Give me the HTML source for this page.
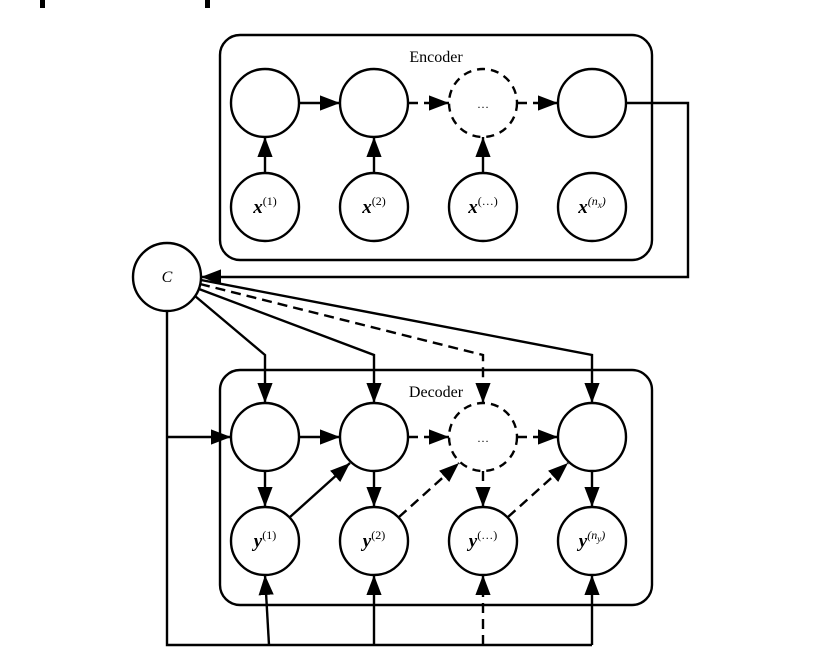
<!DOCTYPE html>
<html><head><style>body{margin:0;background:#fff}svg{display:block}</style></head><body>
<svg width="832" height="666" viewBox="0 0 832 666" xmlns="http://www.w3.org/2000/svg" font-family="Liberation Serif, serif">
<defs>
<marker id="b" viewBox="0 0 10 10" refX="10" refY="5" markerWidth="20" markerHeight="20" markerUnits="userSpaceOnUse" orient="auto"><path d="M0,1.2L10,5L0,8.8z"/></marker></defs>
<rect x="40" y="0" width="5" height="8"/><rect x="205" y="0" width="5" height="8"/>
<g fill="none" stroke="#000" stroke-width="2.4">
<rect x="220" y="35" width="432" height="225" rx="20"/>
<rect x="220" y="370" width="432" height="235" rx="20"/>
<circle cx="265" cy="103" r="34"/><circle cx="374" cy="103" r="34"/><circle cx="483" cy="103" r="34" stroke-dasharray="8,6"/><circle cx="592" cy="103" r="34"/>
<circle cx="265" cy="207" r="34"/><circle cx="374" cy="207" r="34"/><circle cx="483" cy="207" r="34"/><circle cx="592" cy="207" r="34"/>
<circle cx="167" cy="277" r="34"/>
<circle cx="265" cy="437" r="34"/><circle cx="374" cy="437" r="34"/><circle cx="483" cy="437" r="34" stroke-dasharray="8,6"/><circle cx="592" cy="437" r="34"/>
<circle cx="265" cy="541" r="34"/><circle cx="374" cy="541" r="34"/><circle cx="483" cy="541" r="34"/><circle cx="592" cy="541" r="34"/>
</g>
<g fill="none" stroke="#000" stroke-width="2.4" marker-end="url(#b)">
<line x1="299" y1="103" x2="340" y2="103"/><line x1="408" y1="103" x2="449" y2="103" stroke-dasharray="10,6"/><line x1="517" y1="103" x2="558" y2="103" stroke-dasharray="10,6"/>
<line x1="265" y1="173" x2="265" y2="137"/><line x1="374" y1="173" x2="374" y2="137"/><line x1="483" y1="173" x2="483" y2="137"/>
<polyline points="626,103 688,103 688,277 201,277"/>
<polyline points="195,296 265,355 265,403"/><polyline points="199,289 374,355 374,403"/><polyline points="200,284 483,355 483,403" stroke-dasharray="10,6"/><polyline points="201,280 592,355 592,403"/>
<polyline points="167,437 231,437"/>
<line x1="299" y1="437" x2="340" y2="437"/><line x1="408" y1="437" x2="449" y2="437" stroke-dasharray="10,6"/><line x1="517" y1="437" x2="558" y2="437" stroke-dasharray="10,6"/>
<line x1="265" y1="471" x2="265" y2="507"/><line x1="374" y1="471" x2="374" y2="507"/><line x1="483" y1="471" x2="483" y2="507" stroke-dasharray="10,6"/><line x1="592" y1="471" x2="592" y2="507"/>
<line x1="290" y1="517" x2="350" y2="463"/><line x1="399" y1="517" x2="459" y2="463" stroke-dasharray="10,6"/><line x1="508" y1="517" x2="568" y2="463" stroke-dasharray="10,6"/>
<line x1="269" y1="645" x2="265" y2="575"/><line x1="374" y1="645" x2="374" y2="575"/><line x1="483" y1="645" x2="483" y2="575" stroke-dasharray="10,6"/><line x1="592" y1="645" x2="592" y2="575"/>
</g>
<polyline points="167,311 167,645 592,645" fill="none" stroke="#000" stroke-width="2.4"/>
<g font-size="16" text-anchor="middle">
<text x="436" y="62">Encoder</text><text x="436" y="397">Decoder</text>
<text x="483" y="108" font-size="12">…</text><text x="483" y="442" font-size="12">…</text>
<text x="167" y="282" font-style="italic">C</text>
</g>
<g font-size="19" font-style="italic" font-weight="bold" text-anchor="middle">
<text x="265" y="213">x<tspan font-size="12" font-style="normal" font-weight="normal" dy="-8">(1)</tspan></text>
<text x="374" y="213">x<tspan font-size="12" font-style="normal" font-weight="normal" dy="-8">(2)</tspan></text>
<text x="483" y="213">x<tspan font-size="12" font-style="normal" font-weight="normal" dy="-8">(…)</tspan></text>
<text x="592" y="213">x<tspan font-size="12" font-weight="normal" dy="-8">(n<tspan font-size="9" dy="3">x</tspan><tspan dy="-3">)</tspan></tspan></text>
<text x="265" y="547">y<tspan font-size="12" font-style="normal" font-weight="normal" dy="-8">(1)</tspan></text>
<text x="374" y="547">y<tspan font-size="12" font-style="normal" font-weight="normal" dy="-8">(2)</tspan></text>
<text x="483" y="547">y<tspan font-size="12" font-style="normal" font-weight="normal" dy="-8">(…)</tspan></text>
<text x="592" y="547">y<tspan font-size="12" font-weight="normal" dy="-8">(n<tspan font-size="9" dy="3">y</tspan><tspan dy="-3">)</tspan></tspan></text>
</g>
</svg>
</body></html>
